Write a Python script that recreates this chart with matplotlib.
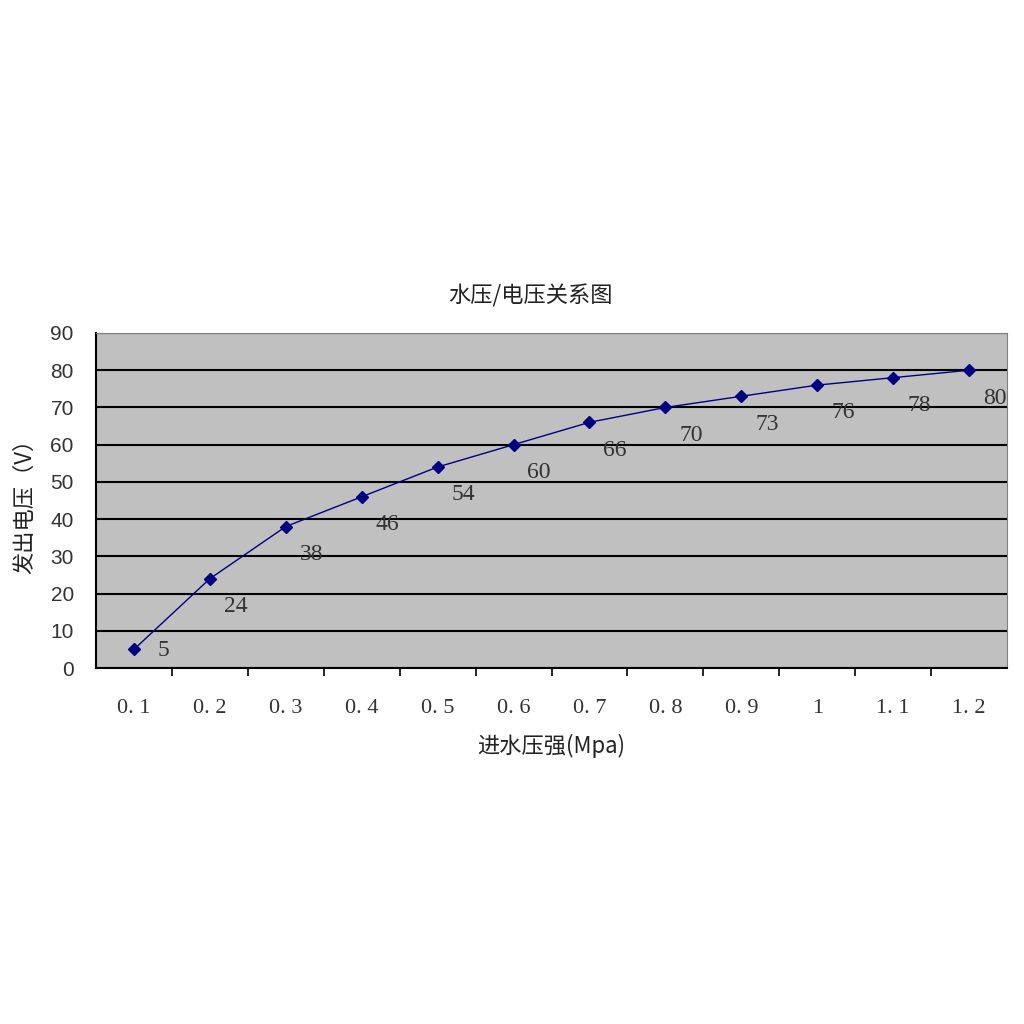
import matplotlib
matplotlib.use("Agg")
import matplotlib.pyplot as plt

# --- DATA ---
pressure_labels = ["0. 1", "0. 2", "0. 3", "0. 4", "0. 5", "0. 6",
                   "0. 7", "0. 8", "0. 9", "1", "1. 1", "1. 2"]
voltage = [5, 24, 38, 46, 54, 60, 66, 70, 73, 76, 78, 80]
y_ticks = [0, 10, 20, 30, 40, 50, 60, 70, 80, 90]

plt.rcParams['font.family'] = ['Noto Sans CJK SC', 'DejaVu Sans']

fig = plt.figure(figsize=(10.24, 10.24), dpi=100)
ax = fig.add_axes([96 / 1024, 1 - 668 / 1024, 911 / 1024, 335 / 1024])
ax.set_facecolor('#C0C0C0')

x = list(range(len(voltage)))
ax.plot(x, voltage, color='#000080', linewidth=1, marker='D', markersize=6,
        markerfacecolor='#000080', markeredgecolor='#000080', zorder=3)

# data labels, below right of each point
for xi, v in zip(x, voltage):
    if v > 10:
        off = (10, -20)
    else:
        off = (17, -1)
    ax.annotate(str(v), (xi, v), xytext=off, textcoords='offset points',
                ha='left', va='center', fontsize=17, color='#333333',
                family='Liberation Serif')

ax.set_xlim(-0.5, len(voltage) - 0.5)
ax.set_ylim(0, 90)
ax.set_yticks(y_ticks)
ax.set_yticklabels([str(t) for t in y_ticks], fontsize=15, color='#333333',
                   family='Liberation Sans')
ax.yaxis.grid(True, color='black', linewidth=1.5)
ax.set_axisbelow(True)
ax.tick_params(axis='y', length=0, pad=16)

# category axis: ticks between categories, labels in the middle
ax.set_xticks([i + 0.5 for i in x[:-1]])
ax.set_xticklabels([])
ax.set_xticks(x, minor=True)
ax.set_xticklabels(pressure_labels, minor=True, fontsize=16, color='#333333',
                   family='Liberation Serif')
ax.tick_params(axis='x', which='major', direction='out', length=6, width=1.2)
ax.tick_params(axis='x', which='minor', length=0, pad=22)

for side in ['top', 'right']:
    ax.spines[side].set_color('#808080')
for side in ['left', 'bottom']:
    ax.spines[side].set_color('black')
    ax.spines[side].set_linewidth(1.5)

ax.set_title('水压/电压关系图', fontsize=16, pad=22, x=(530 - 96) / 911,
             color='#222222')
ax.set_xlabel('进水压强(Mpa)', fontsize=16, labelpad=12, color='#222222')
ax.set_ylabel('发出电压（V）', fontsize=16, labelpad=10, color='#222222')

fig.savefig('out.png', dpi=100, facecolor='white')
